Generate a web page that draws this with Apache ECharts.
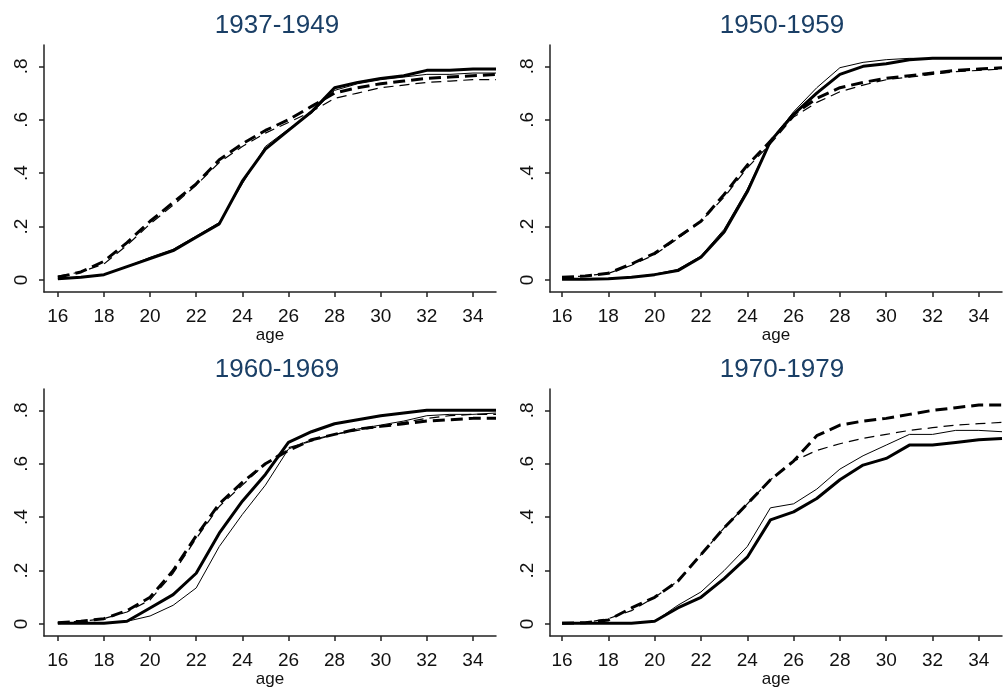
<!DOCTYPE html>
<html>
<head>
<meta charset="utf-8">
<script src="https://cdn.jsdelivr.net/npm/echarts@6/dist/echarts.min.js"></script>
<style>
  html, body { margin: 0; padding: 0; background: #fff; }
  #main { width: 1003px; height: 689px; }
</style>
</head>
<body>
<div id="main"></div>
<script>
const ages = [16, 17, 18, 19, 20, 21, 22, 23, 24, 25, 26, 27, 28, 29, 30, 31, 32, 33, 34, 35];
const xTicks = [16, 18, 20, 22, 24, 26, 28, 30, 32, 34];
const yTicks = [0, 0.2, 0.4, 0.6, 0.8];
const titles = ['1937-1949', '1950-1959', '1960-1969', '1970-1979'];

// 1937-1949
const c37Solid     = [0.005, 0.01, 0.02, 0.05, 0.08, 0.11, 0.16, 0.21, 0.37, 0.49, 0.56, 0.63, 0.72, 0.74, 0.755, 0.765, 0.785, 0.785, 0.79, 0.79];
const c37SolidThin = [0.005, 0.01, 0.02, 0.05, 0.085, 0.115, 0.165, 0.215, 0.36, 0.50, 0.565, 0.625, 0.71, 0.735, 0.75, 0.76, 0.77, 0.77, 0.775, 0.775];
const c37Dash      = [0.01, 0.03, 0.07, 0.14, 0.22, 0.29, 0.36, 0.45, 0.51, 0.56, 0.60, 0.65, 0.70, 0.72, 0.735, 0.745, 0.755, 0.76, 0.765, 0.77];
const c37DashThin  = [0.015, 0.03, 0.06, 0.13, 0.21, 0.28, 0.355, 0.44, 0.50, 0.55, 0.59, 0.63, 0.68, 0.70, 0.72, 0.73, 0.74, 0.745, 0.75, 0.75];

// 1950-1959
const c50Solid     = [0.003, 0.003, 0.005, 0.01, 0.02, 0.035, 0.085, 0.18, 0.33, 0.52, 0.62, 0.70, 0.77, 0.80, 0.81, 0.825, 0.83, 0.83, 0.83, 0.83];
const c50SolidThin = [0.003, 0.003, 0.005, 0.01, 0.022, 0.04, 0.09, 0.19, 0.34, 0.52, 0.63, 0.72, 0.795, 0.815, 0.825, 0.83, 0.83, 0.83, 0.83, 0.83];
const c50Dash      = [0.01, 0.015, 0.025, 0.06, 0.10, 0.16, 0.22, 0.32, 0.43, 0.52, 0.62, 0.68, 0.72, 0.74, 0.755, 0.765, 0.775, 0.785, 0.79, 0.795];
const c50DashThin  = [0.01, 0.015, 0.025, 0.055, 0.095, 0.155, 0.22, 0.31, 0.42, 0.51, 0.61, 0.665, 0.705, 0.73, 0.75, 0.76, 0.77, 0.78, 0.785, 0.79];

// 1960-1969
const c60Solid     = [0.003, 0.003, 0.003, 0.01, 0.06, 0.11, 0.19, 0.34, 0.46, 0.56, 0.68, 0.72, 0.75, 0.765, 0.78, 0.79, 0.80, 0.80, 0.80, 0.80];
const c60SolidThin = [0.003, 0.003, 0.003, 0.01, 0.03, 0.07, 0.135, 0.29, 0.41, 0.52, 0.655, 0.69, 0.71, 0.73, 0.745, 0.76, 0.78, 0.785, 0.785, 0.79];
const c60Dash      = [0.005, 0.01, 0.02, 0.05, 0.10, 0.20, 0.33, 0.45, 0.53, 0.60, 0.65, 0.69, 0.71, 0.73, 0.74, 0.75, 0.76, 0.765, 0.77, 0.77];
const c60DashThin  = [0.005, 0.01, 0.02, 0.045, 0.09, 0.19, 0.32, 0.44, 0.52, 0.60, 0.66, 0.685, 0.71, 0.725, 0.74, 0.755, 0.77, 0.78, 0.785, 0.785];

// 1970-1979
const c70Solid     = [0.003, 0.003, 0.003, 0.003, 0.01, 0.06, 0.10, 0.17, 0.25, 0.39, 0.42, 0.47, 0.54, 0.595, 0.62, 0.67, 0.67, 0.68, 0.69, 0.695];
const c70SolidThin = [0.003, 0.003, 0.003, 0.003, 0.01, 0.07, 0.12, 0.20, 0.29, 0.435, 0.45, 0.505, 0.58, 0.63, 0.67, 0.71, 0.71, 0.725, 0.725, 0.72];
const c70Dash      = [0.003, 0.005, 0.015, 0.06, 0.10, 0.16, 0.26, 0.36, 0.45, 0.54, 0.61, 0.705, 0.745, 0.76, 0.77, 0.785, 0.80, 0.81, 0.82, 0.82];
const c70DashThin  = [0.003, 0.005, 0.02, 0.05, 0.10, 0.16, 0.26, 0.36, 0.45, 0.54, 0.61, 0.65, 0.675, 0.695, 0.71, 0.725, 0.735, 0.745, 0.75, 0.755];

const panels = [
    [c37Solid, c37SolidThin, c37Dash, c37DashThin],
    [c50Solid, c50SolidThin, c50Dash, c50DashThin],
    [c60Solid, c60SolidThin, c60Dash, c60DashThin],
    [c70Solid, c70SolidThin, c70Dash, c70DashThin]
];

const font = 'Liberation Sans, Arial, sans-serif';

// grid boxes: [left, top, xMin, titleCenter]
const boxes = [
    [44, 45, 15.4, 277],
    [550, 45, 15.48, 782],
    [44, 389, 15.4, 277],
    [550, 389, 15.48, 782]
];

const lineStyles = [
    { width: 3, type: 'solid' },
    { width: 1, type: 'solid' },
    { width: 3, type: [12, 6] },
    { width: 1.2, type: [10, 6] }
];

let option = {
    animation: false,
    backgroundColor: '#fff',
    title: [],
    grid: [],
    xAxis: [],
    yAxis: [],
    series: []
};

boxes.forEach((b, i) => {
    option.title.push({
        text: titles[i],
        left: b[3],
        top: b[1] - 32,
        textAlign: 'center',
        padding: 0,
        textStyle: { fontFamily: font, fontSize: 26, fontWeight: 'normal', color: '#1a3f66' }
    });
    option.grid.push({ left: b[0], top: b[1], width: 452, height: 247, containLabel: false });
    option.xAxis.push({
        type: 'value',
        gridIndex: i,
        min: b[2],
        max: 35,
        name: 'age',
        nameLocation: 'middle',
        nameGap: 35,
        nameTextStyle: { fontFamily: font, fontSize: 17, color: '#111' },
        axisLine: { show: true, onZero: false, lineStyle: { color: '#222', width: 1.5 } },
        axisTick: { show: true, length: 5, customValues: xTicks, lineStyle: { color: '#222', width: 1.5 } },
        axisLabel: { customValues: xTicks, margin: 15, fontFamily: font, fontSize: 19, color: '#111' },
        splitLine: { show: false }
    });
    option.yAxis.push({
        type: 'value',
        gridIndex: i,
        min: -0.045,
        max: 0.88,
        axisLine: { show: true, onZero: false, lineStyle: { color: '#222', width: 1.5 } },
        axisTick: { show: true, length: 5, customValues: yTicks, lineStyle: { color: '#222', width: 1.5 } },
        axisLabel: {
            customValues: yTicks,
            rotate: 90,
            margin: 13,
            fontFamily: font,
            fontSize: 19,
            color: '#111',
            formatter: v => v === 0 ? '0' : String(v).replace('0.', '.')
        },
        splitLine: { show: false }
    });
    panels[i].forEach((vals, k) => {
        option.series.push({
            type: 'line',
            xAxisIndex: i,
            yAxisIndex: i,
            symbol: 'none',
            data: ages.map((a, j) => [a, vals[j]]),
            lineStyle: { color: '#000', width: lineStyles[k].width, type: lineStyles[k].type }
        });
    });
});

var myChart = echarts.init(document.getElementById('main'));
myChart.setOption(option);
</script>
</body>
</html>
